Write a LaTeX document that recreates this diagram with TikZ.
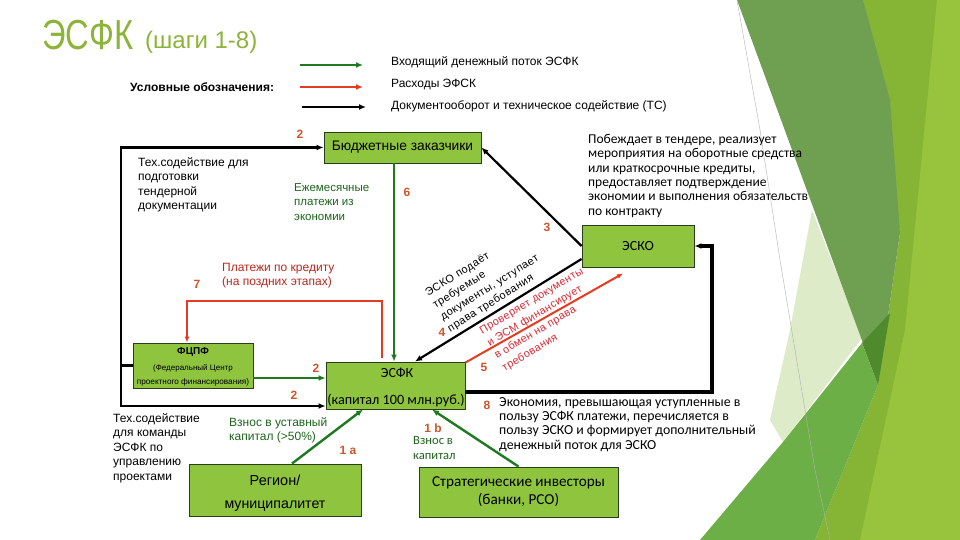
\documentclass[tikz,border=0pt]{standalone}
\usepackage{fontspec}
\setmainfont{Liberation Sans}
\newfontfamily\calf{Carlito}
\newfontfamily\widef[LetterSpace=4]{Liberation Sans}
\usetikzlibrary{arrows.meta,calc}
\definecolor{boxfill}{RGB}{142,196,62}
\definecolor{boxln}{RGB}{40,60,30}
\definecolor{grn}{RGB}{30,122,30}
\definecolor{redl}{RGB}{228,60,35}
\definecolor{numc}{RGB}{205,85,40}
\definecolor{titc}{RGB}{141,180,58}
\definecolor{gtxt}{RGB}{30,100,30}
\definecolor{rtxt}{RGB}{185,40,30}
\definecolor{rrot}{RGB}{220,40,50}
\definecolor{bgdk}{RGB}{111,159,81}
\definecolor{bgbr}{RGB}{134,181,53}
\definecolor{bglt}{RGB}{151,196,60}
\definecolor{bgpale}{RGB}{221,235,200}
\definecolor{bgmid}{RGB}{108,175,71}
\definecolor{bgdd}{RGB}{79,139,45}
\begin{document}
\begin{tikzpicture}[x=1pt,y=-1pt,
  box/.style={draw=boxln, fill=boxfill, line width=0.9pt, inner sep=0pt, align=center},
  tx/.style={inner sep=0pt, align=left, anchor=north west, font=\fontsize{12}{14.5}\selectfont},
  ctx/.style={inner sep=0pt, align=left, anchor=north west, font=\calf\fontsize{13.5}{14.4}\selectfont},
  num/.style={inner sep=0pt, text=numc, font=\bfseries\fontsize{12}{12}\selectfont},
  blkc/.style={draw=black, line width=2.4pt, -{Latex[length=7pt,width=6pt]}},
  grnc/.style={draw=grn, line width=2.6pt, -{Latex[length=7pt,width=6pt]}},
  redc/.style={draw=redl, line width=2pt, -{Latex[length=6pt,width=5pt]}},
]
\useasboundingbox (0,0) rectangle (960,540);
\fill[white] (0,0) rectangle (960,540);
% decorative background
\fill[bgbr] (863,0) -- (960,0) -- (960,540) -- (815,540) -- (878,385) -- (900,233) -- cycle;
\fill[bglt] (937,0) -- (960,0) -- (960,540) -- (860,540) -- (905,330) -- cycle;
\fill[bgpale] (812,210) -- (862,338) -- (783,442) -- (770,420) -- (790,330) -- cycle;
\fill[bgdk] (737,0) -- (863,0) -- (890,100) -- (900,233) -- (878,385) -- (860,335) -- cycle;
\fill[bgdd] (862,343) -- (890,313) -- (878,385) -- cycle;
\fill[bgmid] (783,442) -- (862,343) -- (878,385) -- (815,540) -- (700,540) -- cycle;
\draw[gray!60, line width=0.4pt] (737,0) -- (760,130) -- (780,260) -- (815,470) -- (830,540);

% title
\node[inner sep=0pt, anchor=west, text=titc] (title) at (42,35) {\scalebox{0.78}[1]{\fontsize{42}{42}\selectfont ЭСФК}};
\node[inner sep=0pt, anchor=west, text=titc] (steps) at (145,42) {\fontsize{24}{24}\selectfont (шаги 1-8)};

% legend
\node[inner sep=0pt, anchor=west, font=\bfseries\fontsize{12}{14}\selectfont] (legt) at (130,87) {Условные обозначения:};
\coordinate (lg1a) at (300,65); \coordinate (lg1b) at (363,65);
\coordinate (lg2a) at (300,87); \coordinate (lg2b) at (363,87);
\coordinate (lg3a) at (302,107); \coordinate (lg3b) at (366,107);
\draw[grnc] (lg1a) -- (lg1b);
\draw[draw=redl, line width=2.6pt, -{Latex[length=7pt,width=6pt]}] (lg2a) -- (lg2b);
\draw[blkc] (lg3a) -- (lg3b);
\node[inner sep=0pt, anchor=west, font=\fontsize{12}{14}\selectfont] (lgt1) at (391,62) {Входящий денежный поток ЭСФК};
\node[inner sep=0pt, anchor=west, font=\fontsize{12}{14}\selectfont] (lgt2) at (391,85) {Расходы ЭФСК};
\node[inner sep=0pt, anchor=west, font=\fontsize{12}{14}\selectfont] (lgt3) at (391,106) {Документооборот и техническое содействие (ТС)};

% boxes
\node[box, minimum width=157pt, minimum height=31pt, font=\fontsize{13.8}{16}\selectfont] (budget) at (402.5,147.5) {Бюджетные заказчики};
\node[box, minimum width=112pt, minimum height=42pt, font=\calf\fontsize{14}{16}\selectfont] (esko) at (638,246) {ЭСКО};
\node[box, minimum width=120pt, minimum height=45pt] (fcpf) at (193,365.5) {};
\node[inner sep=0pt, font=\bfseries\fontsize{10}{11}\selectfont] (fcpf1) at (193,352) {ФЦПФ};
\node[inner sep=0pt, font=\fontsize{8}{9}\selectfont] (fcpf2) at (193,368) {(Федеральный Центр};
\node[inner sep=0pt, font=\fontsize{8.2}{9}\selectfont] (fcpf3) at (193,382) {проектного финансирования)};
\node[box, minimum width=139pt, minimum height=47pt] (esfk) at (395.5,385.5) {};
\node[inner sep=0pt, font=\calf\fontsize{14}{16}\selectfont] (esfk1) at (397,373) {ЭСФК};
\node[inner sep=0pt, font=\calf\fontsize{14.2}{16}\selectfont] (esfk2) at (396,400) {(капитал 100 млн.руб.)};
\node[box, minimum width=172pt, minimum height=52pt] (region) at (275,490) {};
\node[inner sep=0pt, font=\fontsize{14.5}{16}\selectfont] (reg1) at (275,480) {Регион/};
\node[inner sep=0pt, font=\fontsize{14.2}{16}\selectfont] (reg2) at (275,506) {муниципалитет};
\node[box, minimum width=199pt, minimum height=50pt, font=\calf\fontsize{15.2}{18}\selectfont] (strat) at (518.5,492) {Стратегические инвесторы\\(банки, РСО)};

% connectors
\coordinate (lv) at (121,0);
\coordinate (esfkB) at ([yshift=-20.5pt]esfk.west);
\draw[blkc] (fcpf.west) -| (lv |- budget.west) -- (budget.west);
\draw[blkc] (fcpf.west) -| (lv |- esfkB) -- (esfkB);
\draw[grnc] (budget.south -| 394,0) -- (esfk.north -| 394,0);
\coordinate (r7a) at (382,358);
\coordinate (r7b) at (187,301);
\draw[redc] (r7a) |- (r7b) -- ([xshift=-6pt]fcpf.north);
\draw[grnc] (fcpf.east |- 0,378) -- (esfk.west |- 0,378);
\draw[blkc, line width=2.2pt] (esko.west) -- (budget.east);
\draw[blkc, line width=2.2pt] ([yshift=-13pt]esko.west) -- ([xshift=19.5pt]esfk.north);
\draw[redc] ([yshift=-1pt]esfk.north east) -- ([xshift=-15pt,yshift=-6pt]esko.south);
\coordinate (c8) at (712,392);
\draw[blkc, line width=3.2pt] (esfk.east |- c8) -- (c8) |- (esko.east);
\draw[grnc, line width=2.4pt] ([xshift=17pt]region.north) -- ([xshift=-32.5pt]esfk.south);
\draw[grnc, line width=2.4pt] (strat.north) -- ([xshift=36.5pt]esfk.south);

% texts
\node[tx] (tA) at (138,157) {Тех.содействие для\\подготовки\\тендерной\\документации};
\node[tx, text=gtxt, font=\fontsize{11.5}{14.5}\selectfont] (tB) at (294,183) {Ежемесячные\\платежи из\\экономии};
\node[tx, text=rtxt] (tC) at (222,263) {Платежи по кредиту\\(на поздних этапах)};
\node[ctx] (tD) at (588,134) {Побеждает в тендере, реализует\\мероприятия на оборотные средства\\или краткосрочные кредиты,\\предоставляет подтверждение\\экономии и выполнения обязательств\\по контракту};
\node[inner sep=0pt, align=left, rotate=32, font=\widef\fontsize{11}{14}\selectfont] (tE) at (486,282) {ЭСКО подаёт\\требуемые\\документы, уступает\\права требования};
\node[inner sep=0pt, align=left, rotate=31, text=rrot, font=\widef\fontsize{10.8}{14.5}\selectfont] (tF) at (543,320) {Проверяет документы\\и ЭСМ  финансирует\\в обмен на права\\требования};
\node[tx] (tG) at (113,413) {Тех.содействие\\для команды\\ЭСФК по\\управлению\\проектами};
\node[tx, text=gtxt] (tH) at (229,417) {Взнос в уставный\\капитал (>50\%)};
\node[ctx, text=gtxt, font=\calf\fontsize{12.6}{15}\selectfont] (tI) at (413,436) {Взнос в\\капитал};
\node[ctx, font=\calf\fontsize{13.8}{14.3}\selectfont] (tJ) at (499,397) {Экономия, превышающая уступленные в\\пользу ЭСФК платежи, перечисляется в\\пользу ЭСКО и формирует дополнительный\\денежный поток для ЭСКО};

% numbers
\node[num] (n2a) at (300,134) {2};
\node[num] (n6) at (407,192) {6};
\node[num] (n3) at (547,227) {3};
\node[num] (n7) at (197,284) {7};
\node[num] (n4) at (442,332) {4};
\node[num] (n5) at (484,367) {5};
\node[num] (n2b) at (316,368) {2};
\node[num] (n2c) at (294,395) {2};
\node[num] (n8) at (487,405) {8};
\node[num] (n1a) at (348,450) {1 a};
\node[num] (n1b) at (433,428) {1 b};
\end{tikzpicture}
\end{document}
